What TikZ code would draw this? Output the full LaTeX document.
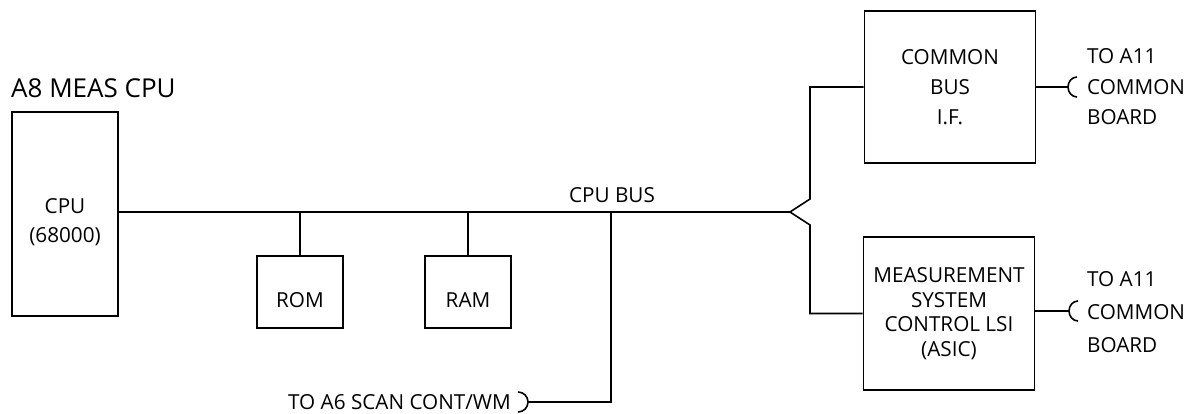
\documentclass[tikz,border=0pt]{standalone}
\usepackage{fontspec}
\setmainfont{Open Sans}
\begin{document}
\begin{tikzpicture}[x=1pt,y=-1pt,
  blk/.style={draw,line width=1.6pt,inner sep=0pt,align=center,font=\fontsize{20.7}{29}\selectfont},
  lbl/.style={inner sep=0pt,align=center,font=\fontsize{20.7}{29}\selectfont},
  wire/.style={line width=1.6pt}]
\useasboundingbox (0,0) rectangle (1200,414);
% title
\node[anchor=west,inner sep=0pt,font=\fontsize{26}{30}\selectfont] (title) at (11,88) {A8 MEAS CPU};
% blocks
\node[blk,minimum width=106,minimum height=204] (cpu) at (65,214) {};
\node[lbl] (cputxt) at (65,222) {CPU\\(68000)};
\node[blk,minimum width=86,minimum height=72] (rom) at (300,292) {};
\node[lbl] (romtxt) at (300,300) {ROM};
\node[blk,minimum width=86,minimum height=72] (ram) at (468,292) {};
\node[lbl] (ramtxt) at (468,300) {RAM};
\node[blk,minimum width=171,minimum height=152,font=\fontsize{20.7}{30}\selectfont] (cbif) at (950,87) {COMMON\\BUS\\I.F.};
\node[blk,minimum width=171,minimum height=153,font=\fontsize{20.7}{24.5}\selectfont] (asic) at (949,313.5) {MEASUREMENT\\SYSTEM\\CONTROL LSI\\(ASIC)};
% labels
\node[lbl] (busl) at (612,195) {CPU BUS};
\node[lbl,anchor=west,align=left,font=\fontsize{20.7}{30.5}\selectfont] (to1) at (1087,87) {TO A11\\COMMON\\BOARD};
\node[lbl,anchor=west,align=left,font=\fontsize{20.7}{33}\selectfont] (to2) at (1087,312) {TO A11\\COMMON\\BOARD};
\node[lbl,anchor=east] (scan) at (511,402) {TO A6 SCAN CONT/WM};
% coordinates
\coordinate (fork) at (790,212);
\coordinate (fu) at (810,199);
\coordinate (fd) at (810,225);
\coordinate (tap) at (611,212);
\coordinate (scanend) at (528,402);
\coordinate (p1) at (1068,87);
\coordinate (p2) at (1069,311);
% bus
\draw[wire] (cpu.east |- fork) -- (fork) -- (fu) |- (cbif.west);
\draw[wire] (fork) -- (fd) |- (asic.west);
\draw[wire] (rom.north |- fork) -- (rom.north);
\draw[wire] (ram.north |- fork) -- (ram.north);
\draw[wire] (tap) |- (scanend);
\draw[wire] ([shift={(-10,-10)}]scanend) to[out=0,in=90] (scanend) to[out=-90,in=0] ([shift={(-10,10)}]scanend);
% right connectors
\draw[wire] (cbif.east |- p1) -- (p1);
\draw[wire] ([shift={(9,-10)}]p1) to[out=180,in=90] (p1) to[out=-90,in=180] ([shift={(9,10)}]p1);
\draw[wire] (asic.east |- p2) -- (p2);
\draw[wire] ([shift={(9,-10)}]p2) to[out=180,in=90] (p2) to[out=-90,in=180] ([shift={(9,10)}]p2);
\end{tikzpicture}
\end{document}
